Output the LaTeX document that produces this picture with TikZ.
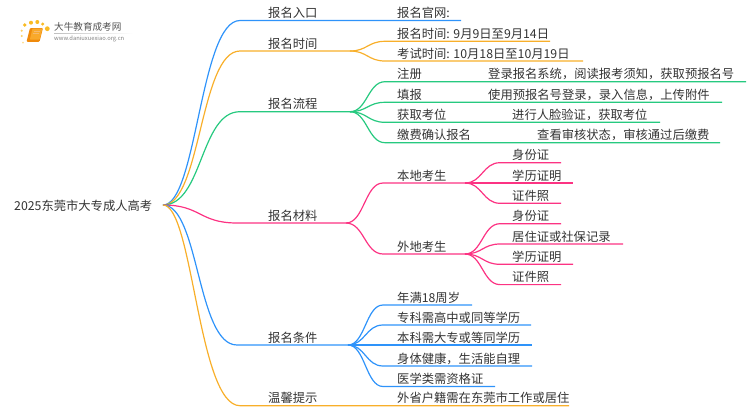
\documentclass[tikz,border=0pt]{standalone}
\usepackage{fontspec}
\setmainfont{Noto Sans CJK SC}
\definecolor{linkblue}{HTML}{2E93FA}
\definecolor{linkorange}{HTML}{F8AF2A}
\definecolor{linkgreen}{HTML}{26C97F}
\definecolor{linkpink}{HTML}{FC3383}
\definecolor{labelgray}{HTML}{333333}
\definecolor{bookdark}{HTML}{EF8A0C}
\definecolor{booklight}{HTML}{F9A92B}
\tikzset{
	topic/.style={anchor=base west,inner sep=0pt,yshift=-0.8pt,text=labelgray,font=\fontsize{12.3}{14}\selectfont},
	bluelink/.style={draw=linkblue,line width=1.2pt},
	orangelink/.style={draw=linkorange,line width=1.2pt},
	greenlink/.style={draw=linkgreen,line width=1.2pt},
	pinklink/.style={draw=linkpink,line width=1.2pt},
	sundot/.style={fill=linkorange!85!yellow,draw=none}
}
\begin{document}
\begin{tikzpicture}[x=1pt,y=1pt,yscale=-1,xscale=1]
	\useasboundingbox (0,0) rectangle (750,410);
	%logo
	\fill [sundot] (24.7,25) circle (1.9);
	\fill [sundot] (31,22.7) circle (2);
	\fill [sundot] (37.3,22) circle (2);
	\fill [sundot] (42.7,24) circle (1.7);
	\fill [sundot] (47.3,28.7) circle (2.4);
	\fill [sundot,opacity=0.7] (21.7,30.7) circle (1.2);
	\fill [sundot,opacity=0.7] (21.7,36) circle (1.1);
	\fill [sundot,opacity=0.5] (23,42.7) circle (1);
	\fill [bookdark,rounded corners=1pt] (30,28) -- (43,28) -- (39.5,41.8) -- (26.5,41.8) -- cycle;
	\fill [booklight,rounded corners=0.6pt] (32.5,28.6) -- (42.4,28.6) -- (39.6,39.6) -- (29.8,39.6) -- cycle;
	\draw [bookdark!60!white,line width=0.5pt] (33.6,31.5) -- (39.6,31.5);
	\draw [bookdark!60!white,line width=0.5pt] (33,33.6) -- (39,33.6);
	\node (logoname) [anchor=west,inner sep=0pt,text=labelgray!85,font=\fontsize{9.6}{11}\selectfont] at (54,27) {大牛教育成考网};
	\node (logosite) [anchor=west,inner sep=0pt,text=gray,font=\fontsize{5.8}{7}\selectfont] at (54,39) {www.daniuxuexiao.org.cn};
	\fill [left color=gray!50,right color=white] (54,33) rectangle (133,33.6);

	%root
	\node (root) [topic] at (14,209.5) {2025东莞市大专成人高考};
	\coordinate (hub) at (163,205);

	%branch points
	\coordinate (entryA) at (240,20.5);
	\coordinate (entryB) at (461,20.5);
	\coordinate (timeA) at (240,51);
	\coordinate (timeB) at (350,51);
	\coordinate (flowA) at (240,111.7);
	\coordinate (flowB) at (350,111.7);
	\coordinate (docsA) at (237,223);
	\coordinate (docsB) at (346,223);
	\coordinate (condA) at (237,345);
	\coordinate (condB) at (348,345);
	\coordinate (tipsA) at (240,405.7);
	\coordinate (tipsB) at (569,405.7);

	%main branches
	\draw [bluelink] (hub) .. controls +(34,0) and +(-40,0) .. (entryA) -- (entryB);
	\draw [orangelink] (hub) .. controls +(38,0) and +(-40,0) .. (timeA) -- (timeB);
	\draw [greenlink] (hub) .. controls +(40,0) and +(-40,0) .. (flowA) -- (flowB);
	\draw [pinklink] (hub) .. controls +(38,0) and +(-38,0) .. (docsA) -- (docsB);
	\draw [bluelink] (hub) .. controls +(36,0) and +(-40,0) .. (condA) -- (condB);
	\draw [orangelink] (hub) .. controls +(30,0) and +(-42,0) .. (tipsA) -- (tipsB);

	%labels of main branches
	\node (entry) [topic] at (268,17) {报名入口};
	\node (time) [topic] at (268,47.3) {报名时间};
	\node (flow) [topic] at (268,108) {报名流程};
	\node (docs) [topic] at (268,219.3) {报名材料};
	\node (cond) [topic] at (268,341.3) {报名条件};
	\node (tips) [topic] at (268,402) {温馨提示};

	%first row
	\node (site) [topic] at (397,17) {报名官网:};

	%time
	\coordinate (signA) at (385,41.3);
	\coordinate (signB) at (550,41.3);
	\coordinate (examA) at (385,61);
	\coordinate (examB) at (583,61);
	\draw [orangelink] (timeB) .. controls +(17,0) and +(-17,0) .. (signA) -- (signB);
	\draw [orangelink] (timeB) .. controls +(17,0) and +(-17,0) .. (examA) -- (examB);
	\node (sign) [topic] at (397,37.6) {报名时间: 9月9日至9月14日};
	\node (exam) [topic] at (397,57.3) {考试时间: 10月18日至10月19日};

	%flow
	\coordinate (regA) at (385,81.7);
	\coordinate (regB) at (746,81.7);
	\coordinate (fillA) at (385,102.3);
	\coordinate (fillB) at (722,102.3);
	\coordinate (seatA) at (385,122.3);
	\coordinate (seatB) at (660,122.3);
	\coordinate (payA) at (385,142.7);
	\coordinate (payB) at (720,142.7);
	\draw [greenlink] (flowB) .. controls +(17,0) and +(-17,0) .. (regA) -- (regB);
	\draw [greenlink] (flowB) .. controls +(17,0) and +(-17,0) .. (fillA) -- (fillB);
	\draw [greenlink] (flowB) .. controls +(17,0) and +(-17,0) .. (seatA) -- (seatB);
	\draw [greenlink] (flowB) .. controls +(17,0) and +(-17,0) .. (payA) -- (payB);
	\node (reg) [topic] at (397,78) {注册};
	\node (regnote) [topic] at (488,78) {登录报名系统，阅读报考须知，获取预报名号};
	\node (fill) [topic] at (397,98.6) {填报};
	\node (fillnote) [topic] at (488,98.6) {使用预报名号登录，录入信息，上传附件};
	\node (seat) [topic] at (397,118.6) {获取考位};
	\node (seatnote) [topic] at (512,118.6) {进行人脸验证，获取考位};
	\node (pay) [topic] at (397,139) {缴费确认报名};
	\node (paynote) [topic] at (537,139) {查看审核状态，审核通过后缴费};

	%docs
	\coordinate (localA) at (383,183);
	\coordinate (localB) at (465,183);
	\coordinate (awayA) at (383,254);
	\coordinate (awayB) at (465,254);
	\draw [pinklink] (docsB) .. controls +(18,0) and +(-18,0) .. (localA) -- (localB);
	\draw [pinklink] (docsB) .. controls +(18,0) and +(-18,0) .. (awayA) -- (awayB);
	\node (local) [topic] at (397,179.3) {本地考生};
	\node (away) [topic] at (397,250.3) {外地考生};

	\coordinate (idA) at (500,162.7);
	\coordinate (idB) at (561,162.7);
	\coordinate (eduB) at (573,183);
	\coordinate (photoA) at (500,203.3);
	\coordinate (photoB) at (561,203.3);
	\draw [pinklink] (localB) .. controls +(17,0) and +(-17,0) .. (idA) -- (idB);
	\draw [pinklink] (localB) -- (eduB);
	\draw [pinklink] (localB) .. controls +(17,0) and +(-17,0) .. (photoA) -- (photoB);
	\node (id) [topic] at (512,159) {身份证};
	\node (edu) [topic] at (512,179.3) {学历证明};
	\node (photo) [topic] at (512,199.6) {证件照};

	\coordinate (idtwoA) at (500,223.7);
	\coordinate (idtwoB) at (561,223.7);
	\coordinate (resA) at (500,244);
	\coordinate (resB) at (623,244);
	\coordinate (edutwoA) at (500,264.3);
	\coordinate (edutwoB) at (573,264.3);
	\coordinate (phototwoA) at (500,284.6);
	\coordinate (phototwoB) at (561,284.6);
	\draw [pinklink] (awayB) .. controls +(17,0) and +(-17,0) .. (idtwoA) -- (idtwoB);
	\draw [pinklink] (awayB) .. controls +(17,0) and +(-17,0) .. (resA) -- (resB);
	\draw [pinklink] (awayB) .. controls +(17,0) and +(-17,0) .. (edutwoA) -- (edutwoB);
	\draw [pinklink] (awayB) .. controls +(17,0) and +(-17,0) .. (phototwoA) -- (phototwoB);
	\node (idtwo) [topic] at (512,220) {身份证};
	\node (res) [topic] at (512,240.3) {居住证或社保记录};
	\node (edutwo) [topic] at (512,260.6) {学历证明};
	\node (phototwo) [topic] at (512,280.9) {证件照};

	%cond
	\coordinate (ageA) at (383,305);
	\coordinate (ageB) at (472,305);
	\coordinate (juniorA) at (383,325);
	\coordinate (juniorB) at (531,325);
	\coordinate (seniorB) at (532,345);
	\coordinate (healthA) at (383,366);
	\coordinate (healthB) at (532,366);
	\coordinate (medA) at (383,386.5);
	\coordinate (medB) at (495,386.5);
	\draw [bluelink] (condB) .. controls +(17,0) and +(-17,0) .. (ageA) -- (ageB);
	\draw [bluelink] (condB) .. controls +(17,0) and +(-17,0) .. (juniorA) -- (juniorB);
	\draw [bluelink] (condB) -- (seniorB);
	\draw [bluelink] (condB) .. controls +(17,0) and +(-17,0) .. (healthA) -- (healthB);
	\draw [bluelink] (condB) .. controls +(17,0) and +(-17,0) .. (medA) -- (medB);
	\node (age) [topic] at (397,301.3) {年满18周岁};
	\node (junior) [topic] at (397,321.3) {专科需高中或同等学历};
	\node (senior) [topic] at (397,341.3) {本科需大专或等同学历};
	\node (health) [topic] at (397,362.3) {身体健康，生活能自理};
	\node (med) [topic] at (397,382.8) {医学类需资格证};

	%tips
	\node (tipnote) [topic] at (397,402) {外省户籍需在东莞市工作或居住};
\end{tikzpicture}
\end{document}
